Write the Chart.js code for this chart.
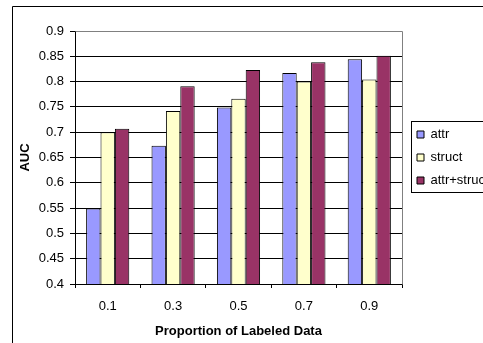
<!DOCTYPE html>
<html>
<head>
<meta charset="utf-8">
<script src="https://cdn.jsdelivr.net/npm/chart.js@4.4.0/dist/chart.umd.min.js"></script>
<style>
  html, body { margin: 0; padding: 0; background: #fff; }
  #wrap { width: 483px; height: 343px; position: relative; }
</style>
</head>
<body>
<div id="wrap"><canvas id="myChart" width="483" height="343"></canvas></div>
<script>
// categories (proportion of labeled data)
var labels = ['0.1', '0.3', '0.5', '0.7', '0.9'];

// AUC values
var attr = [0.549, 0.673, 0.749, 0.817, 0.844];
var struct = [0.700, 0.742, 0.766, 0.800, 0.804];
var attrStruct = [0.707, 0.791, 0.823, 0.838, 0.851];

// outer frame + gray plot border + legend frame
var framePlugin = {
    id: 'frames',
    beforeUpdate: function (chart) {
        // legend gets a fixed width, text runs off the canvas like the original
        var lg = chart.legend;
        if (lg && !lg._fixedWidth) {
            var fit = lg.fit;
            lg.fit = function () {
                fit.call(this);
                this.width = 81;
            };
            lg._fixedWidth = true;
        }
    },
    afterLayout: function (chart) {
        // legend sits right of the plot, centred on the plot area
        var lg = chart.legend;
        var a = chart.chartArea;
        lg.left += 5;
        lg.right += 5;
        lg.top = a.top;
        lg.bottom = a.bottom;
        lg.height = a.bottom - a.top;
    },
    beforeDraw: function (chart) {
        var ctx = chart.ctx;
        ctx.save();
        ctx.fillStyle = '#fff';
        ctx.fillRect(0, 0, chart.width, chart.height);
        ctx.strokeStyle = '#000';
        ctx.lineWidth = 1;
        ctx.beginPath();
        ctx.moveTo(12.5, chart.height);
        ctx.lineTo(12.5, 6.5);
        ctx.lineTo(chart.width, 6.5);
        ctx.stroke();
        ctx.restore();
    },
    beforeDatasetsDraw: function (chart) {
        var a = chart.chartArea;
        var ctx = chart.ctx;
        ctx.save();
        ctx.strokeStyle = '#808080';
        ctx.lineWidth = 1;
        ctx.beginPath();
        ctx.moveTo(Math.round(a.left) + 0.5, Math.round(a.top) + 0.5);
        ctx.lineTo(Math.round(a.right) + 0.5, Math.round(a.top) + 0.5);
        ctx.lineTo(Math.round(a.right) + 0.5, Math.round(a.bottom) + 0.5);
        ctx.stroke();
        ctx.restore();
    },
    afterDraw: function (chart) {
        var lg = chart.legend;
        if (!lg || !lg.legendHitBoxes.length) return;
        var boxes = lg.legendHitBoxes;
        var top = boxes[0].top - 7;
        var bottom = boxes[boxes.length - 1].top + boxes[boxes.length - 1].height + 5;
        var left = boxes[0].left - 6;
        var ctx = chart.ctx;
        ctx.save();
        ctx.strokeStyle = '#000';
        ctx.lineWidth = 1;
        ctx.strokeRect(Math.round(left) + 0.5, Math.round(top) + 0.5, chart.width, Math.round(bottom - top));
        ctx.restore();
    }
};

const data = {
    labels: labels,
    datasets: [{
        label: 'attr',
        backgroundColor: '#9999FF',
        borderColor: '#000',
        borderWidth: 1,
        data: attr
    }, {
        label: 'struct',
        backgroundColor: '#FFFFCC',
        borderColor: '#000',
        borderWidth: 1,
        data: struct
    }, {
        label: 'attr+struct',
        backgroundColor: '#993366',
        borderColor: '#000',
        borderWidth: 1,
        data: attrStruct
    }]
};

const config = {
    type: 'bar',
    data: data,
    options: {
        responsive: false,
        animation: false,
        devicePixelRatio: 1,
        layout: { padding: { left: 12, top: 31, right: 0, bottom: 0 } },
        datasets: { bar: { barPercentage: 1, categoryPercentage: 0.66 } },
        plugins: {
            tooltip: { enabled: false },
            legend: {
                position: 'right',
                labels: {
                    boxWidth: 7,
                    boxHeight: 7,
                    padding: 10,
                    color: '#000',
                    font: { family: 'Liberation Sans', size: 13 }
                }
            }
        },
        scales: {
            x: {
                grid: { display: true, drawOnChartArea: false, offset: true, tickLength: 4, color: '#000', tickColor: '#000' },
                border: { color: '#000' },
                ticks: { color: '#000', padding: 11, font: { family: 'Liberation Sans', size: 13 } },
                title: {
                    display: true,
                    text: 'Proportion of Labeled Data',
                    color: '#000',
                    font: { family: 'Liberation Sans', size: 13, weight: 'bold' },
                    padding: { top: 4, bottom: 4 }
                },
                afterFit: function (s) { s.height = 59; }
            },
            y: {
                min: 0.4,
                max: 0.9,
                ticks: {
                    stepSize: 0.05,
                    color: '#000',
                    padding: 6,
                    font: { family: 'Liberation Sans', size: 13 },
                    callback: function (v) { return String(parseFloat(v.toFixed(2))); }
                },
                grid: { color: '#000', tickLength: 5, tickColor: '#000' },
                border: { color: '#000' },
                title: {
                    display: true,
                    text: 'AUC',
                    color: '#000',
                    font: { family: 'Liberation Sans', size: 13, weight: 'bold' },
                    padding: { top: 6, bottom: 0 }
                },
                afterFit: function (s) { s.width = 63; }
            }
        }
    },
    plugins: [framePlugin]
};

const myChart = new Chart(document.getElementById('myChart'), config);
</script>
</body>
</html>
